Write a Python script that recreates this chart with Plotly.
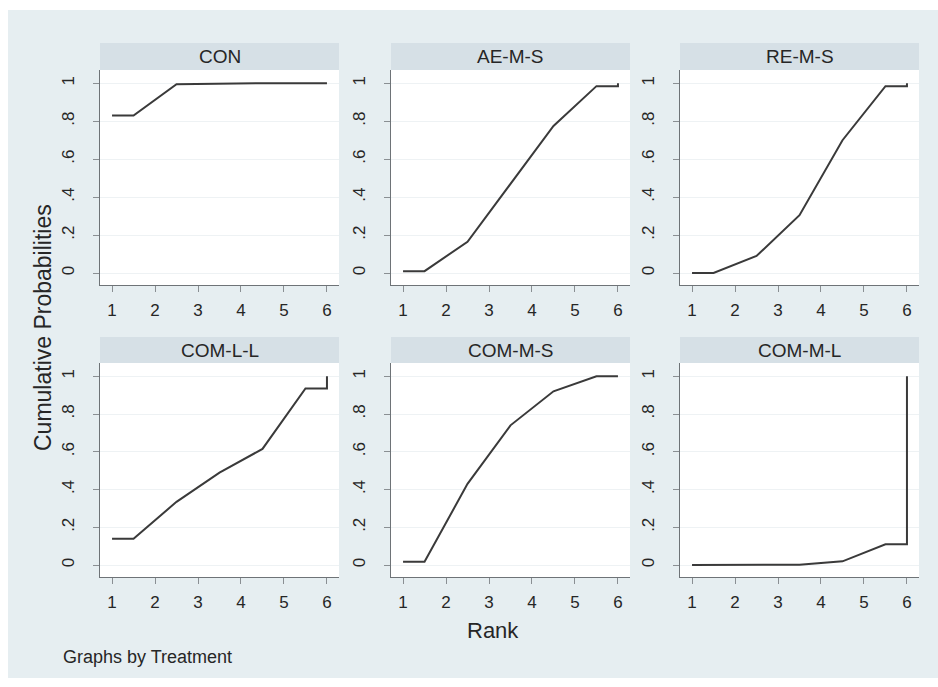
import plotly.graph_objects as go

W, H = 938, 687

# ---- data ----
ranks = [1, 1.5, 2.5, 3.5, 4.5, 5.5, 6, 6]
treatments = ["CON", "AE-M-S", "RE-M-S", "COM-L-L", "COM-M-S", "COM-M-L"]
con = [0.83, 0.83, 0.995, 0.998, 1.0, 1.0, 1.0, 1.0]
ae_m_s = [0.01, 0.01, 0.165, 0.47, 0.775, 0.985, 0.985, 1.0]
re_m_s = [0.0, 0.0, 0.09, 0.305, 0.70, 0.985, 0.985, 1.0]
com_l_l = [0.14, 0.14, 0.335, 0.49, 0.615, 0.935, 0.935, 1.0]
com_m_s = [0.018, 0.018, 0.43, 0.74, 0.92, 1.0, 1.0, 1.0]
com_m_l = [0.0, 0.0, 0.0, 0.002, 0.02, 0.11, 0.11, 1.0]
series = [con, ae_m_s, re_m_s, com_l_l, com_m_s, com_m_l]
y_tickvals = [0, 0.2, 0.4, 0.6, 0.8, 1]
y_ticktext = ["0", ".2", ".4", ".6", ".8", "1"]
x_tickvals = [1, 2, 3, 4, 5, 6]

# ---- layout in pixels ----
col_px = [(100, 339), (391, 630), (680, 919)]
row_px = [(70, 285), (363, 577)]
hdr_px = [(43, 70), (337, 363)]

def px_x(x):
    return x / W

def px_y(y):
    return 1 - y / H

BG = "#e6eef1"
HDR = "#d6e0e6"
FONT = "Liberation Sans, Arial, sans-serif"
TXT = "#262626"

fig = go.Figure()
shapes = []
annotations = []
layout_axes = {}

for i, (name, vals) in enumerate(zip(treatments, series)):
    r, c = divmod(i, 3)
    idx = i + 1
    xa = "x" if idx == 1 else f"x{idx}"
    ya = "y" if idx == 1 else f"y{idx}"
    fig.add_trace(go.Scatter(x=ranks, y=vals, mode="lines",
                             line=dict(color="#3a3a3a", width=2),
                             xaxis=xa, yaxis=ya, showlegend=False,
                             hoverinfo="skip"))
    x0, x1 = col_px[c]
    y0, y1 = row_px[r]
    layout_axes[f"xaxis{'' if idx == 1 else idx}"] = dict(
        domain=[px_x(x0), px_x(x1)], anchor=ya, range=[0.72, 6.28],
        tickvals=x_tickvals, ticks="outside", ticklen=6, tickwidth=1,
        tickcolor="#8a8f93", showline=True, linecolor="#6e7377", linewidth=1.2,
        showgrid=False, zeroline=False, fixedrange=True, ticklabelstandoff=3,
        tickfont=dict(family=FONT, size=17, color=TXT))
    layout_axes[f"yaxis{'' if idx == 1 else idx}"] = dict(
        domain=[px_y(y1), px_y(y0)], anchor=xa, range=[-0.063, 1.07],
        tickvals=y_tickvals, ticktext=y_ticktext, tickangle=-90,
        ticks="outside", ticklen=6, tickwidth=1, tickcolor="#8a8f93",
        showline=True, linecolor="#6e7377", linewidth=1.2,
        showgrid=True, gridcolor="#eef2f4", gridwidth=1,
        zeroline=False, fixedrange=True, ticklabelstandoff=12,
        tickfont=dict(family=FONT, size=17, color=TXT))
    h0, h1 = hdr_px[r]
    shapes.append(dict(type="rect", xref="paper", yref="paper",
                       x0=px_x(x0), x1=px_x(x1), y0=px_y(h1), y1=px_y(h0),
                       fillcolor=HDR, line=dict(width=0), layer="below"))
    annotations.append(dict(text=name, xref="paper", yref="paper",
                            x=px_x((x0 + x1) / 2), y=px_y((h0 + h1) / 2),
                            showarrow=False, xanchor="center", yanchor="middle",
                            font=dict(family=FONT, size=19, color=TXT)))

# background panel
shapes.insert(0, dict(type="rect", xref="paper", yref="paper",
                      x0=px_x(8), x1=1.0, y0=px_y(678), y1=px_y(10),
                      fillcolor=BG, line=dict(width=0), layer="below"))
# white plot areas
for r in range(2):
    for c in range(3):
        x0, x1 = col_px[c]
        y0, y1 = row_px[r]
        shapes.insert(1, dict(type="rect", xref="paper", yref="paper",
                              x0=px_x(x0), x1=px_x(x1), y0=px_y(y1), y1=px_y(y0),
                              fillcolor="white", line=dict(width=0), layer="below"))

annotations.append(dict(text="Cumulative Probabilities", xref="paper", yref="paper",
                        x=px_x(43), y=px_y(328), textangle=-90, showarrow=False,
                        xanchor="center", yanchor="middle",
                        font=dict(family=FONT, size=23, color=TXT)))
annotations.append(dict(text="Rank", xref="paper", yref="paper",
                        x=px_x(493), y=px_y(630), showarrow=False,
                        xanchor="center", yanchor="middle",
                        font=dict(family=FONT, size=22, color=TXT)))
annotations.append(dict(text="Graphs by Treatment", xref="paper", yref="paper",
                        x=px_x(61), y=px_y(657), showarrow=False,
                        xanchor="left", yanchor="middle",
                        font=dict(family=FONT, size=18, color=TXT)))

fig.update_layout(width=W, height=H, margin=dict(l=0, r=0, t=0, b=0),
                  paper_bgcolor="white", plot_bgcolor="rgba(0,0,0,0)",
                  shapes=shapes, annotations=annotations, **layout_axes)

fig.write_html("out.html", config={"displayModeBar": False},
               post_script="document.body.style.margin='0';document.body.style.overflow='hidden';")
